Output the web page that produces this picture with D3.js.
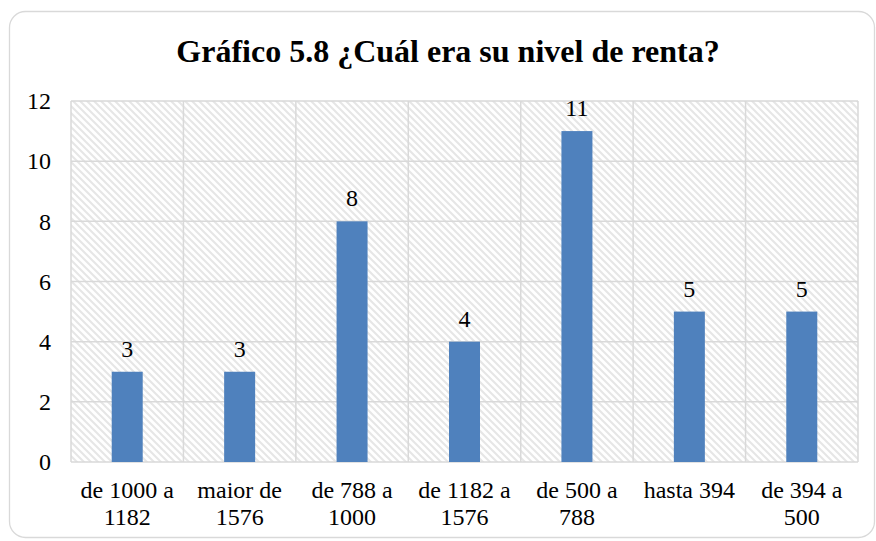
<!DOCTYPE html>
<html>
<head>
<meta charset="utf-8">
<script src="https://cdnjs.cloudflare.com/ajax/libs/d3/7.8.5/d3.min.js"></script>
<style>
  body { margin: 0; background: #fff; }
</style>
</head>
<body>
<div id="chart"></div>
<script>
var width = 876, height = 541;
var serif = "'Liberation Serif'";

var categories = [["de 1000 a", "1182"], ["maior de", "1576"], ["de 788 a", "1000"],
    ["de 1182 a", "1576"], ["de 500 a", "788"], ["hasta 394", ""], ["de 394 a", "500"]];
var values = [3, 3, 8, 4, 11, 5, 5];
var yTicks = [0, 2, 4, 6, 8, 10, 12];
var title = "Gráfico 5.8 ¿Cuál era su nivel de renta?";

var margin = {left: 71, right: 18, top: 101, bottom: 79};

var svg = d3.select("#chart").append("svg")
    .attr("width", width).attr("height", height);

// diagonal hatch for the plot background
var defs = svg.append("defs");
var pat = defs.append("pattern")
    .attr("id", "hatch")
    .attr("patternUnits", "userSpaceOnUse")
    .attr("width", 7).attr("height", 7);
pat.append("rect").attr("width", 7).attr("height", 7).attr("fill", "#fff");
pat.append("path")
    .attr("d", "M-1,-1 L8,8 M-8,-1 L1,8 M6,-1 L15,8")
    .attr("stroke", "#e6e6e6").attr("stroke-width", 2);

// outer chart border
svg.append("rect")
    .attr("x", 9.5).attr("y", 11.5)
    .attr("width", 865).attr("height", 526)
    .attr("rx", 16).attr("ry", 16)
    .attr("fill", "#fff").attr("stroke", "#d9d9d9").attr("stroke-width", 1.3);

svg.append("text")
    .attr("x", 448).attr("y", 62)
    .attr("text-anchor", "middle")
    .style("font-family", serif)
    .style("font-size", "32px").style("font-weight", "bold")
    .text(title);

var x = d3.scaleBand()
    .domain(d3.range(categories.length))
    .range([margin.left, width - margin.right])
    .paddingInner(0).paddingOuter(0);

var y = d3.scaleLinear()
    .domain([0, 12])
    .range([height - margin.bottom, margin.top]);

svg.append("rect")
    .attr("x", margin.left).attr("y", margin.top)
    .attr("width", width - margin.right - margin.left)
    .attr("height", height - margin.bottom - margin.top)
    .attr("fill", "url(#hatch)");

// horizontal gridlines
svg.append("g")
    .selectAll("line")
    .data(yTicks)
    .join("line")
    .attr("x1", margin.left).attr("x2", width - margin.right)
    .attr("y1", function(d){ return y(d); })
    .attr("y2", function(d){ return y(d); })
    .attr("stroke", "#d9d9d9").attr("stroke-width", 1.5);

// vertical gridlines at category boundaries
svg.append("g")
    .selectAll("line")
    .data(d3.range(categories.length + 1))
    .join("line")
    .attr("x1", function(i){ return i < categories.length ? x(i) : x(i - 1) + x.bandwidth(); })
    .attr("x2", function(i){ return i < categories.length ? x(i) : x(i - 1) + x.bandwidth(); })
    .attr("y1", margin.top).attr("y2", height - margin.bottom)
    .attr("stroke", "#d9d9d9").attr("stroke-width", 1.5);

var yAxis = svg.append("g")
    .attr("transform", "translate(" + (margin.left - 20) + ",0)")
    .call(d3.axisLeft(y).tickValues(yTicks).tickSize(0).tickPadding(0));
yAxis.select(".domain").remove();
yAxis.selectAll("text")
    .attr("fill", "#000")
    .style("font-family", serif)
    .style("font-size", "24px");

var barW = 31;

svg.append("g")
    .selectAll("rect")
    .data(values)
    .join("rect")
    .attr("x", function(d, i){ return x(i) + x.bandwidth() / 2 - barW / 2; })
    .attr("y", function(d){ return y(d); })
    .attr("width", barW)
    .attr("height", function(d){ return y(0) - y(d); })
    .attr("fill", "#4f81bd");

svg.append("g")
    .selectAll("text")
    .data(values)
    .join("text")
    .attr("x", function(d, i){ return x(i) + x.bandwidth() / 2; })
    .attr("y", function(d){ return y(d) - 15; })
    .attr("text-anchor", "middle")
    .style("font-family", serif)
    .style("font-size", "24px")
    .text(function(d){ return d; });

var labels = svg.append("g")
    .selectAll("text")
    .data(categories)
    .join("text")
    .attr("text-anchor", "middle")
    .style("font-family", serif)
    .style("font-size", "24px");
labels.each(function(lines, i){
    var t = d3.select(this);
    lines.forEach(function(line, k){
        if (!line) return;
        t.append("tspan")
            .attr("x", x(i) + x.bandwidth() / 2)
            .attr("y", 498 + k * 27)
            .text(line);
    });
});
</script>
</body>
</html>
